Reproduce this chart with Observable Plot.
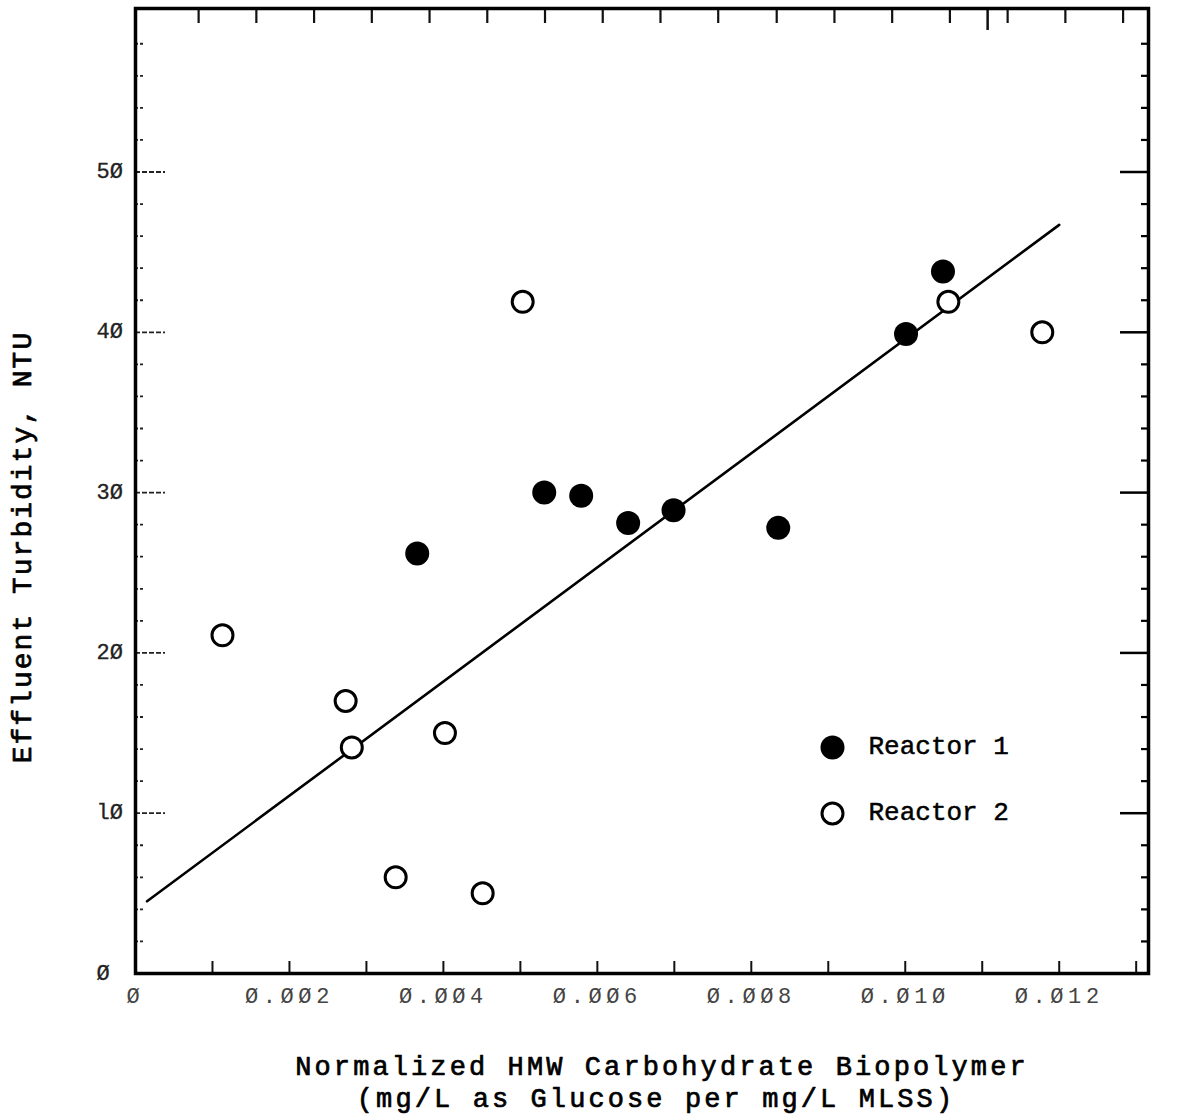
<!DOCTYPE html>
<html>
<head>
<meta charset="utf-8">
<script src="https://cdn.jsdelivr.net/npm/d3@7"></script>
<script src="https://cdn.jsdelivr.net/npm/@observablehq/plot@0.6"></script>
<style>
  html, body { margin: 0; padding: 0; background: #fff; }
  #chart svg { display: block; }
</style>
</head>
<body>
<div id="chart"></div>
<script>
// Reactor 1 (filled circles)
const reactor1X = [0.00366, 0.00531, 0.00579, 0.00640, 0.00699, 0.00835, 0.01001, 0.01049];
const reactor1Y = [26.2, 30.0, 29.8, 28.1, 28.9, 27.8, 39.9, 43.8];

// Reactor 2 (open circles)
const reactor2X = [0.00113, 0.00273, 0.00281, 0.00338, 0.00402, 0.00451, 0.00503, 0.01056, 0.01178];
const reactor2Y = [21.1, 17.0, 14.1, 6.0, 15.0, 5.0, 41.9, 41.9, 40.0];

// Least-squares line drawn across the data range
const fitIntercept = 3.97;
const fitSlope = 3561;
const fitRange = [0.00015, 0.012];

// Axis ticks and labels
const xLabelValues = [0, 0.002, 0.004, 0.006, 0.008, 0.010, 0.012];
const xLabelText = ["Ø", "Ø.ØØ2", "Ø.ØØ4", "Ø.ØØ6", "Ø.ØØ8", "Ø.Ø1Ø", "Ø.Ø12"];
const xBottomTicks = [0.001, 0.002, 0.003, 0.004, 0.005, 0.006, 0.007, 0.008, 0.009, 0.010, 0.011, 0.012, 0.013];
const xTopTicks = [0.00082, 0.00157, 0.00232, 0.00307, 0.00382, 0.00457, 0.00532, 0.00607, 0.00682,
                   0.00757, 0.00833, 0.00908, 0.00983, 0.01058, 0.01133, 0.01208, 0.01283];
const xTopLongTick = [0.01107];
const yLabelValues = [0, 10, 20, 30, 40, 50];
const yLabelText = ["Ø", "lØ", "2Ø", "3Ø", "4Ø", "5Ø"];
const yMajorTicks = [10, 20, 30, 40, 50];
const yMinorTicks = [2, 4, 6, 8, 12, 14, 16, 18, 22, 24, 26, 28, 32, 34, 36, 38, 42, 44, 46, 48, 52, 54, 56, 58];

const xTitle1 = "Normalized HMW Carbohydrate Biopolymer";
const xTitle2 = "(mg/L as Glucose per mg/L MLSS)";
const yTitle = "Effluent Turbidity, NTU";
const legendLabels = ["Reactor 1", "Reactor 2"];

const reactor1 = reactor1X.map((x, i) => ({x, y: reactor1Y[i]}));
const reactor2 = reactor2X.map((x, i) => ({x, y: reactor2Y[i]}));
const fitLine = fitRange.map(x => ({x, y: fitIntercept + fitSlope * x}));
const xLabels = xLabelValues.map((v, i) => ({v, t: xLabelText[i]}));
const yLabels = yLabelValues.map((v, i) => ({v, t: yLabelText[i]}));

const W = 1190, H = 1115;
const mL = 135, mR = 42, mT = 8, mB = 142;
const innerW = W - mL - mR, innerH = H - mT - mB;
const mono = "'Liberation Mono', 'Courier New', monospace";

const chart = Plot.plot({
  width: W,
  height: H,
  marginLeft: mL,
  marginRight: mR,
  marginTop: mT,
  marginBottom: mB,
  style: {fontFamily: mono, background: "#fff", color: "#000"},
  x: {domain: [0, 0.01316], axis: null},
  y: {domain: [0, 60.2], axis: null},
  marks: [
    // bottom ticks (inward)
    Plot.ruleX(xBottomTicks, {stroke: "#111", strokeWidth: 2, insetTop: innerH - 12}),
    // top ticks (inward)
    Plot.ruleX(xTopTicks, {stroke: "#111", strokeWidth: 2.2, insetBottom: innerH - 15}),
    Plot.ruleX(xTopLongTick, {stroke: "#111", strokeWidth: 2.5, insetBottom: innerH - 22}),
    // left ticks
    Plot.ruleY(yMajorTicks, {stroke: "#222", strokeWidth: 1.8, strokeDasharray: "5 2", insetRight: innerW - 30}),
    Plot.ruleY(yMinorTicks, {stroke: "#222", strokeWidth: 1.8, strokeDasharray: "3 2", insetRight: innerW - 10}),
    // right ticks
    Plot.ruleY(yMajorTicks, {stroke: "#000", strokeWidth: 2.5, insetLeft: innerW - 28}),
    Plot.ruleY(yMinorTicks, {stroke: "#000", strokeWidth: 2.2, insetLeft: innerW - 7}),
    Plot.frame({stroke: "#000", strokeWidth: 3.5}),
    // tick labels
    Plot.text(xLabels, {x: "v", text: "t", frameAnchor: "bottom", dy: 29, fontSize: 22,
      fill: "#444", textAnchor: "middle"}),
    Plot.text(yLabels, {y: "v", text: "t", frameAnchor: "left", dx: -39, dy: -1, textAnchor: "start",
      fontSize: 22, fill: "#222", stroke: "#222", strokeWidth: 0.3}),
    // fitted line
    Plot.line(fitLine, {x: "x", y: "y", stroke: "#000", strokeWidth: 2.6}),
    // points
    Plot.dot(reactor2, {x: "x", y: "y", r: 10.5, fill: "#fff", stroke: "#000", strokeWidth: 3}),
    Plot.dot(reactor1, {x: "x", y: "y", r: 12, fill: "#000", stroke: "none"}),
    // legend
    Plot.dot([legendLabels[0]], {frameAnchor: "bottom-right", dx: -316, dy: -226, r: 12, fill: "#000"}),
    Plot.dot([legendLabels[1]], {frameAnchor: "bottom-right", dx: -316, dy: -160, r: 10.5, fill: "#fff", stroke: "#000", strokeWidth: 3}),
    Plot.text([legendLabels[0]], {frameAnchor: "bottom-right", dx: -280, dy: -220, textAnchor: "start",
      fontSize: 26, fill: "#000", stroke: "#000", strokeWidth: 0.5}),
    Plot.text([legendLabels[1]], {frameAnchor: "bottom-right", dx: -280, dy: -154, textAnchor: "start",
      fontSize: 26, fill: "#000", stroke: "#000", strokeWidth: 0.5}),
    // axis titles
    Plot.text([xTitle1], {frameAnchor: "bottom", textAnchor: "middle", dx: 20, dy: 101, fontSize: 27,
      fill: "#000", stroke: "#000", strokeWidth: 0.7}),
    Plot.text([xTitle2], {frameAnchor: "bottom", textAnchor: "middle", dx: 14, dy: 133, fontSize: 27,
      fill: "#000", stroke: "#000", strokeWidth: 0.7}),
    Plot.text([yTitle], {frameAnchor: "left", textAnchor: "middle", rotate: -90, dx: -113, dy: 56, fontSize: 28,
      fill: "#000", stroke: "#000", strokeWidth: 0.7})
  ]
});

// Typewriter-style letter spacing for the labels and titles
const spacing = new Map([
  [xTitle1, 3.1], [xTitle2, 3.1], [yTitle, 2.0],
  ...xLabelText.map(t => [t, 4.6])
]);
d3.select(chart).selectAll("text").each(function () {
  const ls = spacing.get(this.textContent);
  if (ls != null) this.setAttribute("letter-spacing", ls);
});

document.getElementById("chart").appendChild(chart);
</script>
</body>
</html>
